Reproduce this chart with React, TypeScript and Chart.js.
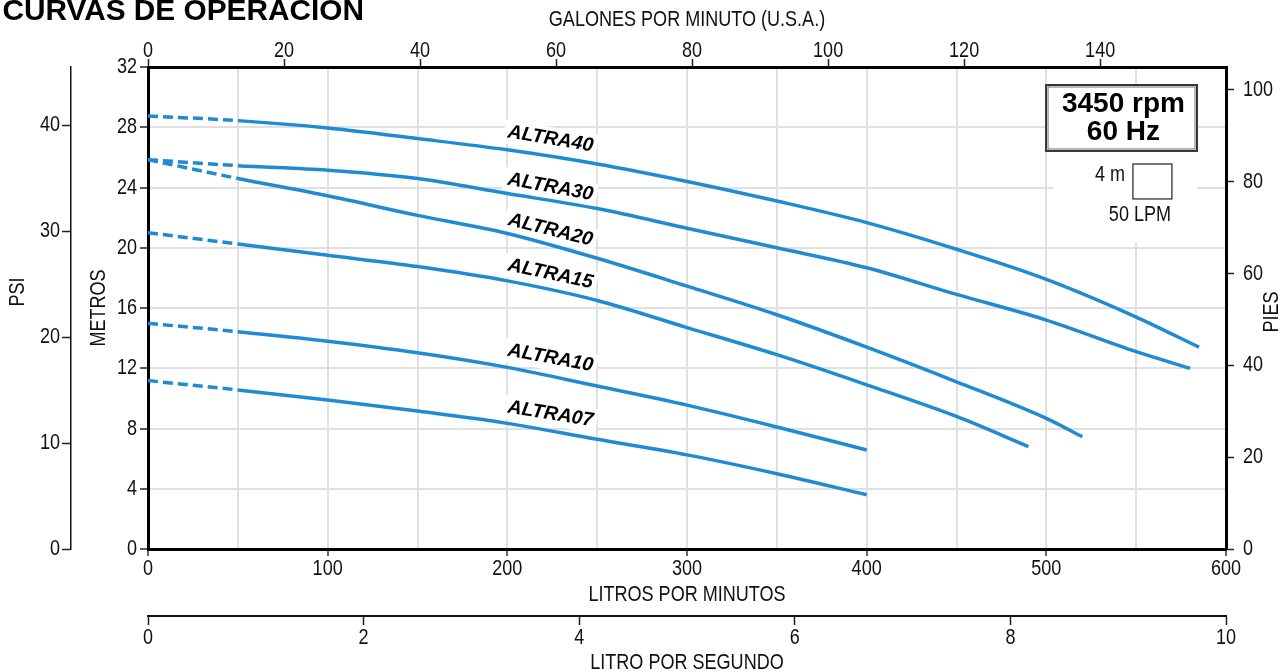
import React, { useEffect, useRef } from 'react';
import { Chart, registerables } from 'chart.js';

Chart.register(...registerables);

// ---------- DATA ----------
const ALTRA40_FLOW = [0, 50, 100, 150, 200, 250, 300, 350, 400, 450, 500, 550, 585];
const ALTRA40_HEAD = [28.75, 28.44, 27.95, 27.25, 26.5, 25.56, 24.4, 23.1, 21.67, 19.9, 17.9, 15.4, 13.4];
const ALTRA30_FLOW = [0, 50, 100, 150, 200, 250, 300, 350, 400, 450, 500, 550, 580];
const ALTRA30_HEAD = [25.85, 25.45, 25.15, 24.6, 23.6, 22.6, 21.3, 20.0, 18.67, 16.9, 15.2, 13.1, 12.0];
const ALTRA20_FLOW = [0, 50, 100, 150, 200, 250, 300, 350, 400, 450, 500, 520];
const ALTRA20_HEAD = [25.85, 24.6, 23.45, 22.15, 20.95, 19.3, 17.45, 15.55, 13.4, 11.1, 8.67, 7.45];
const ALTRA15_FLOW = [0, 50, 100, 150, 200, 250, 300, 350, 400, 450, 490];
const ALTRA15_HEAD = [21.0, 20.25, 19.5, 18.75, 17.8, 16.5, 14.7, 12.9, 10.9, 8.8, 6.8];
const ALTRA10_FLOW = [0, 50, 100, 150, 200, 250, 300, 350, 400];
const ALTRA10_HEAD = [14.98, 14.43, 13.8, 13.03, 12.06, 10.82, 9.55, 8.1, 6.57];
const ALTRA07_FLOW = [0, 50, 100, 150, 200, 250, 300, 350, 400];
const ALTRA07_HEAD = [11.18, 10.56, 9.89, 9.16, 8.34, 7.28, 6.25, 5.0, 3.6];

const SERIES_NAMES = ['ALTRA40', 'ALTRA30', 'ALTRA20', 'ALTRA15', 'ALTRA10', 'ALTRA07'];
const SERIES_FLOWS = [ALTRA40_FLOW, ALTRA30_FLOW, ALTRA20_FLOW, ALTRA15_FLOW, ALTRA10_FLOW, ALTRA07_FLOW];
const SERIES_HEADS = [ALTRA40_HEAD, ALTRA30_HEAD, ALTRA20_HEAD, ALTRA15_HEAD, ALTRA10_HEAD, ALTRA07_HEAD];

// tick labels
const METROS_TICKS = [0, 4, 8, 12, 16, 20, 24, 28, 32];
const PSI_TICKS = [0, 10, 20, 30, 40];
const PIES_TICKS = [0, 20, 40, 60, 80, 100];
const LPM_TICKS = [0, 50, 100, 150, 200, 250, 300, 350, 400, 450, 500, 550, 600];
const GPM_TICKS = [0, 20, 40, 60, 80, 100, 120, 140];
const LPS_TICKS = [0, 2, 4, 6, 8, 10];

// unit conversions
const M_MAX = 32;
const LPM_MAX = 600;
const PSI_PER_M = 1.4219;
const FT_PER_M = 3.28084;
const LPM_PER_GPM = 3.78541;
const LPM_PER_LPS = 60;

// curve label annotations (in LPM / m)
const LABEL_FLOW = [224, 224, 224, 224, 224, 224];
const LABEL_HEAD = [27.22, 24.03, 21.18, 18.26, 12.68, 8.96];
const LABEL_ANGLE = [9.5, 10.5, 14, 12, 10.5, 9];

// ---------- STYLE ----------
const NARROW = "'Liberation Sans Narrow', 'Liberation Sans', sans-serif";
const SANS = "'Liberation Sans', Arial, sans-serif";
const CONDENSE = 0.82;
const BLUE = '#1f8bd3';
const GRID = '#e0e0e0';
const TXT = '#111';

const fixedTicks = (vals: number[]) => (s: any) => {
  s.ticks = vals.map((v) => ({ value: v }));
};

const annotations = {
  id: 'annotations',
  beforeDatasetsDraw(chart: any) {
    const { ctx } = chart;
    const xs = chart.scales.x;
    const ys = chart.scales.y;
    ctx.save();
    ctx.fillStyle = '#ffffff';
    ctx.font = `italic bold 19.5px ${SANS}`;
    SERIES_NAMES.forEach((t, i) => {
      const px = xs.getPixelForValue(LABEL_FLOW[i]);
      const py = ys.getPixelForValue(LABEL_HEAD[i]);
      const w = ctx.measureText(t).width + 8;
      ctx.save();
      ctx.translate(px, py);
      ctx.rotate((LABEL_ANGLE[i] * Math.PI) / 180);
      ctx.fillRect(-w / 2, -12, w, 24);
      ctx.restore();
    });
    const x1 = xs.getPixelForValue(503.7);
    const x2 = xs.getPixelForValue(583.9);
    const y1 = ys.getPixelForValue(26.36);
    const y2 = ys.getPixelForValue(20.32);
    ctx.fillRect(x1, y1, x2 - x1, y2 - y1);
    ctx.restore();
  },
  afterDraw(chart: any) {
    const { ctx } = chart;
    const xs = chart.scales.x;
    const ys = chart.scales.y;
    ctx.save();

    ctx.fillStyle = '#000';
    ctx.font = `bold 29.8px ${SANS}`;
    ctx.textAlign = 'left';
    ctx.textBaseline = 'alphabetic';
    ctx.fillText('CURVAS DE OPERACION', 2.5, 20);

    ctx.font = `22px ${NARROW}`;
    ctx.fillStyle = TXT;
    ctx.textAlign = 'center';
    ctx.textBaseline = 'middle';
    ctx.save();
    ctx.translate(17.5, 292);
    ctx.rotate(-Math.PI / 2);
    ctx.fillText('PSI', 0, 0);
    ctx.restore();
    ctx.save();
    ctx.translate(1272, 312);
    ctx.rotate(-Math.PI / 2);
    ctx.fillText('PIES', 0, 0);
    ctx.restore();

    ctx.font = `italic bold 19.5px ${SANS}`;
    ctx.fillStyle = '#000';
    SERIES_NAMES.forEach((t, i) => {
      const px = xs.getPixelForValue(LABEL_FLOW[i]);
      const py = ys.getPixelForValue(LABEL_HEAD[i]);
      ctx.save();
      ctx.translate(px, py);
      ctx.rotate((LABEL_ANGLE[i] * Math.PI) / 180);
      ctx.fillText(t, 0, 0);
      ctx.restore();
    });

    const bx1 = xs.getPixelForValue(499.3);
    const bx2 = xs.getPixelForValue(584.4);
    const by1 = ys.getPixelForValue(30.87);
    const by2 = ys.getPixelForValue(26.36);
    ctx.fillStyle = '#fff';
    ctx.fillRect(bx1, by1, bx2 - bx1, by2 - by1);
    ctx.strokeStyle = '#333';
    ctx.lineWidth = 2;
    ctx.strokeRect(bx1 + 1, by1 + 1, bx2 - bx1 - 2, by2 - by1 - 2);
    ctx.strokeStyle = '#777';
    ctx.lineWidth = 1;
    ctx.strokeRect(bx1 + 3, by1 + 3, bx2 - bx1 - 6, by2 - by1 - 6);
    ctx.fillStyle = '#000';
    ctx.font = `bold 28px ${SANS}`;
    const cx = xs.getPixelForValue(542.9);
    ctx.fillText('3450 rpm', cx, ys.getPixelForValue(29.54));
    ctx.fillText('60 Hz', cx, ys.getPixelForValue(27.68));

    const sx1 = xs.getPixelForValue(548.2);
    const sx2 = xs.getPixelForValue(569.9);
    const sy1 = ys.getPixelForValue(25.56);
    const sy2 = ys.getPixelForValue(23.24);
    ctx.strokeStyle = '#222';
    ctx.lineWidth = 1.2;
    ctx.strokeRect(sx1, sy1, sx2 - sx1, sy2 - sy1);
    ctx.font = `22px ${NARROW}`;
    ctx.fillStyle = TXT;
    ctx.textAlign = 'right';
    ctx.fillText('4 m', xs.getPixelForValue(543.8), ys.getPixelForValue(24.83));
    ctx.textAlign = 'center';
    ctx.fillText('50 LPM', xs.getPixelForValue(552.1), ys.getPixelForValue(22.17));

    ctx.restore();
  },
};

// draw text set in the narrow family horizontally condensed (no narrow face is installed)
function condenseNarrowText(ctx: any) {
  if (ctx.__condensed) return;
  const orig = ctx.fillText.bind(ctx);
  ctx.fillText = function (text: string, x: number, y: number, maxWidth?: number) {
    if (String(ctx.font).indexOf('Narrow') >= 0) {
      ctx.save();
      ctx.translate(x, y);
      ctx.scale(CONDENSE, 1);
      orig(text, 0, 0);
      ctx.restore();
    } else if (maxWidth !== undefined) {
      orig(text, x, y, maxWidth);
    } else {
      orig(text, x, y);
    }
  };
  ctx.__condensed = true;
}

export default function App() {
  const ref = useRef<HTMLCanvasElement | null>(null);

  useEffect(() => {
    if (!ref.current) return;
    condenseNarrowText(ref.current.getContext('2d'));
    const tickFont = { family: NARROW, size: 22, lineHeight: 1.2 };
    const datasets = SERIES_NAMES.map((name, i) => ({
      label: name,
      data: SERIES_FLOWS[i].map((f, j) => ({ x: f, y: SERIES_HEADS[i][j] })),
      borderColor: BLUE,
      borderWidth: 3.5,
      pointRadius: 0,
      fill: false,
      cubicInterpolationMode: 'monotone' as const,
      borderCapStyle: 'butt' as const,
      segment: {
        borderDash: (c: any) => (c.p0DataIndex === 0 ? [10, 5] : undefined),
      },
      xAxisID: 'x',
      yAxisID: 'y',
    }));

    const chart = new Chart(ref.current, {
      type: 'line',
      data: { datasets },
      plugins: [annotations],
      options: {
        animation: false,
        responsive: false,
        events: [],
        layout: { padding: 0 },
        plugins: { legend: { display: false }, tooltip: { enabled: false }, title: { display: false } },
        scales: {
          x: {
            type: 'linear',
            position: 'bottom',
            weight: 0,
            min: 0,
            max: LPM_MAX,
            afterBuildTicks: fixedTicks(LPM_TICKS),
            afterFit: (s: any) => { s.height = 67; },
            ticks: {
              autoSkip: false,
              maxRotation: 0,
              padding: 0,
              color: TXT,
              font: tickFont,
              callback: (v: any) => (Number(v) % 100 === 0 ? String(v) : ''),
            },
            grid: {
              color: GRID,
              lineWidth: 2,
              drawTicks: true,
              tickLength: 7,
              tickWidth: 1.5,
              tickColor: (c: any) => (c.tick && c.tick.value % 100 === 0 ? '#333' : 'rgba(0,0,0,0)'),
            },
            border: { display: true, color: '#000', width: 3 },
            title: { display: true, text: 'LITROS POR MINUTOS', color: TXT, font: tickFont, padding: { top: 0, bottom: 7.8 } },
          },
          lps: {
            type: 'linear',
            position: 'bottom',
            weight: 1,
            min: 0,
            max: LPM_MAX / LPM_PER_LPS,
            afterBuildTicks: fixedTicks(LPS_TICKS),
            afterFit: (s: any) => { s.height = 56; },
            ticks: { autoSkip: false, maxRotation: 0, padding: 0, color: TXT, font: { family: NARROW, size: 22, lineHeight: 1.15 } },
            grid: { drawOnChartArea: false, drawTicks: true, tickLength: 9, tickWidth: 1.5, tickColor: '#222' },
            border: { display: true, color: '#111', width: 2 },
            title: { display: true, text: 'LITRO POR SEGUNDO', color: TXT, font: { family: NARROW, size: 22, lineHeight: 0.86 }, padding: { top: 0, bottom: 0 } },
          },
          gpm: {
            type: 'linear',
            position: 'top',
            min: 0,
            max: LPM_MAX / LPM_PER_GPM,
            afterBuildTicks: fixedTicks(GPM_TICKS),
            afterFit: (s: any) => { s.height = 67; },
            ticks: { autoSkip: false, maxRotation: 0, padding: 0, color: TXT, font: { family: NARROW, size: 22, lineHeight: 0.7 } },
            grid: { drawOnChartArea: false, drawTicks: true, tickLength: 8, tickWidth: 1.5, tickColor: '#222' },
            border: { display: true, color: '#000', width: 3 },
            title: { display: true, text: 'GALONES POR MINUTO (U.S.A.)', color: TXT, font: tickFont, padding: { top: 6.8, bottom: 0 } },
          },
          y: {
            type: 'linear',
            position: 'left',
            weight: 0,
            min: 0,
            max: M_MAX,
            afterBuildTicks: fixedTicks(METROS_TICKS),
            afterFit: (s: any) => { s.width = 77; },
            ticks: { padding: 3, color: TXT, font: tickFont },
            grid: { color: GRID, lineWidth: 2, drawTicks: true, tickLength: 8, tickWidth: 1.5, tickColor: '#222' },
            border: { display: true, color: '#000', width: 3 },
            title: { display: true, text: 'METROS', color: TXT, font: tickFont, padding: { top: 14.8, bottom: 0 } },
          },
          psi: {
            type: 'linear',
            position: 'left',
            weight: 1,
            min: 0,
            max: M_MAX * PSI_PER_M,
            afterBuildTicks: fixedTicks(PSI_TICKS),
            afterFit: (s: any) => { s.width = 71; },
            ticks: { padding: 2, color: TXT, font: tickFont },
            grid: { drawOnChartArea: false, drawTicks: true, tickLength: 9, tickWidth: 1.5, tickColor: '#222' },
            border: { display: true, color: '#111', width: 1.5 },
          },
          pies: {
            type: 'linear',
            position: 'right',
            min: 0,
            max: M_MAX * FT_PER_M,
            afterBuildTicks: fixedTicks(PIES_TICKS),
            afterFit: (s: any) => { s.width = 61; },
            ticks: { padding: 9, color: TXT, font: tickFont },
            grid: { drawOnChartArea: false, drawTicks: true, tickLength: 8, tickWidth: 1.5, tickColor: '#222' },
            border: { display: true, color: '#000', width: 3 },
          },
        },
      } as any,
    });
    return () => chart.destroy();
  }, []);

  return (
    <div style={{ position: 'fixed', left: 0, top: 0, width: 1287, height: 672, background: '#fff' }}>
      <canvas ref={ref} width={1287} height={672} style={{ display: 'block', width: 1287, height: 672 }} />
    </div>
  );
}
